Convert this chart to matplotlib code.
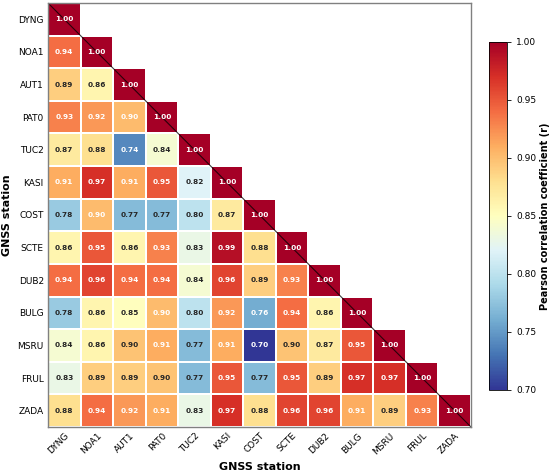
import numpy as np
import matplotlib
matplotlib.use("Agg")
import matplotlib.pyplot as plt

stations = ["DYNG", "NOA1", "AUT1", "PAT0", "TUC2", "KASI", "COST",
            "SCTE", "DUB2", "BULG", "MSRU", "FRUL", "ZADA"]

# lower-triangle rows (including diagonal)
row_DYNG = [1.00]
row_NOA1 = [0.94, 1.00]
row_AUT1 = [0.89, 0.86, 1.00]
row_PAT0 = [0.93, 0.92, 0.902, 1.00]
row_TUC2 = [0.87, 0.88, 0.74, 0.84, 1.00]
row_KASI = [0.91, 0.97, 0.91, 0.95, 0.82, 1.00]
row_COST = [0.78, 0.902, 0.77, 0.77, 0.80, 0.87, 1.00]
row_SCTE = [0.86, 0.95, 0.86, 0.93, 0.83, 0.99, 0.88, 1.00]
row_DUB2 = [0.94, 0.96, 0.94, 0.94, 0.84, 0.96, 0.89, 0.93, 1.00]
row_BULG = [0.78, 0.86, 0.85, 0.902, 0.80, 0.92, 0.76, 0.94, 0.86, 1.00]
row_MSRU = [0.84, 0.86, 0.898, 0.91, 0.77, 0.91, 0.70, 0.898, 0.87, 0.95, 1.00]
row_FRUL = [0.83, 0.89, 0.89, 0.898, 0.77, 0.95, 0.77, 0.95, 0.89, 0.97, 0.97, 1.00]
row_ZADA = [0.88, 0.94, 0.92, 0.91, 0.83, 0.97, 0.88, 0.96, 0.96, 0.91, 0.89, 0.93, 1.00]

rows = [row_DYNG, row_NOA1, row_AUT1, row_PAT0, row_TUC2, row_KASI, row_COST,
        row_SCTE, row_DUB2, row_BULG, row_MSRU, row_FRUL, row_ZADA]

n = len(stations)
mat = np.full((n, n), np.nan)
for i, r in enumerate(rows):
    mat[i, :len(r)] = r
data = np.ma.masked_invalid(mat)

fig = plt.figure(figsize=(5.5, 4.74), dpi=100)
ax = fig.add_axes([48/550, 1 - 427/474, 423/550, 424/474])
cax = fig.add_axes([489/550, 1 - 390/474, 18/550, 348/474])

cmap = plt.get_cmap("RdYlBu_r")
mesh = ax.pcolormesh(np.arange(n + 1), np.arange(n + 1), data, cmap=cmap,
                     vmin=0.70, vmax=1.00, edgecolors="white", linewidth=1.2)
ax.set_xlim(0, n)
ax.set_ylim(n, 0)

for i in range(n):
    for j in range(i + 1):
        v = mat[i, j]
        col = "white" if (v >= 0.9 or v <= 0.765) else "#262626"
        ax.text(j + 0.5, i + 0.5, f"{v:.2f}", ha="center", va="center",
                fontsize=5.3, fontweight="bold", color=col)

ax.plot([0, n], [0, n], color="black", lw=0.8, alpha=0.75)

ax.set_xticks(np.arange(n) + 0.5)
ax.set_yticks(np.arange(n) + 0.5)
ax.set_xticklabels(stations, rotation=45, ha="right", rotation_mode="anchor", fontsize=6.5)
ax.set_yticklabels(stations, fontsize=6.5)
ax.tick_params(length=0, pad=3)
for s in ax.spines.values():
    s.set_color("#808080")
    s.set_linewidth(1.0)
ax.set_xlabel("GNSS station", fontsize=8, fontweight="bold", labelpad=4)
ax.set_ylabel("GNSS station", fontsize=8, fontweight="bold", labelpad=4)

cb = fig.colorbar(mesh, cax=cax)
ticks = [0.70, 0.75, 0.80, 0.85, 0.90, 0.95, 1.00]
cb.set_ticks(ticks)
cb.ax.set_yticklabels([f"{t:.2f}" for t in ticks], fontsize=6.5)
cb.ax.tick_params(length=3, width=0.6)
cb.outline.set_linewidth(0.6)
cb.set_label("Pearson correlation coefficient (r)", fontsize=7, fontweight="bold", labelpad=3)

fig.savefig("out.png", dpi=100)
